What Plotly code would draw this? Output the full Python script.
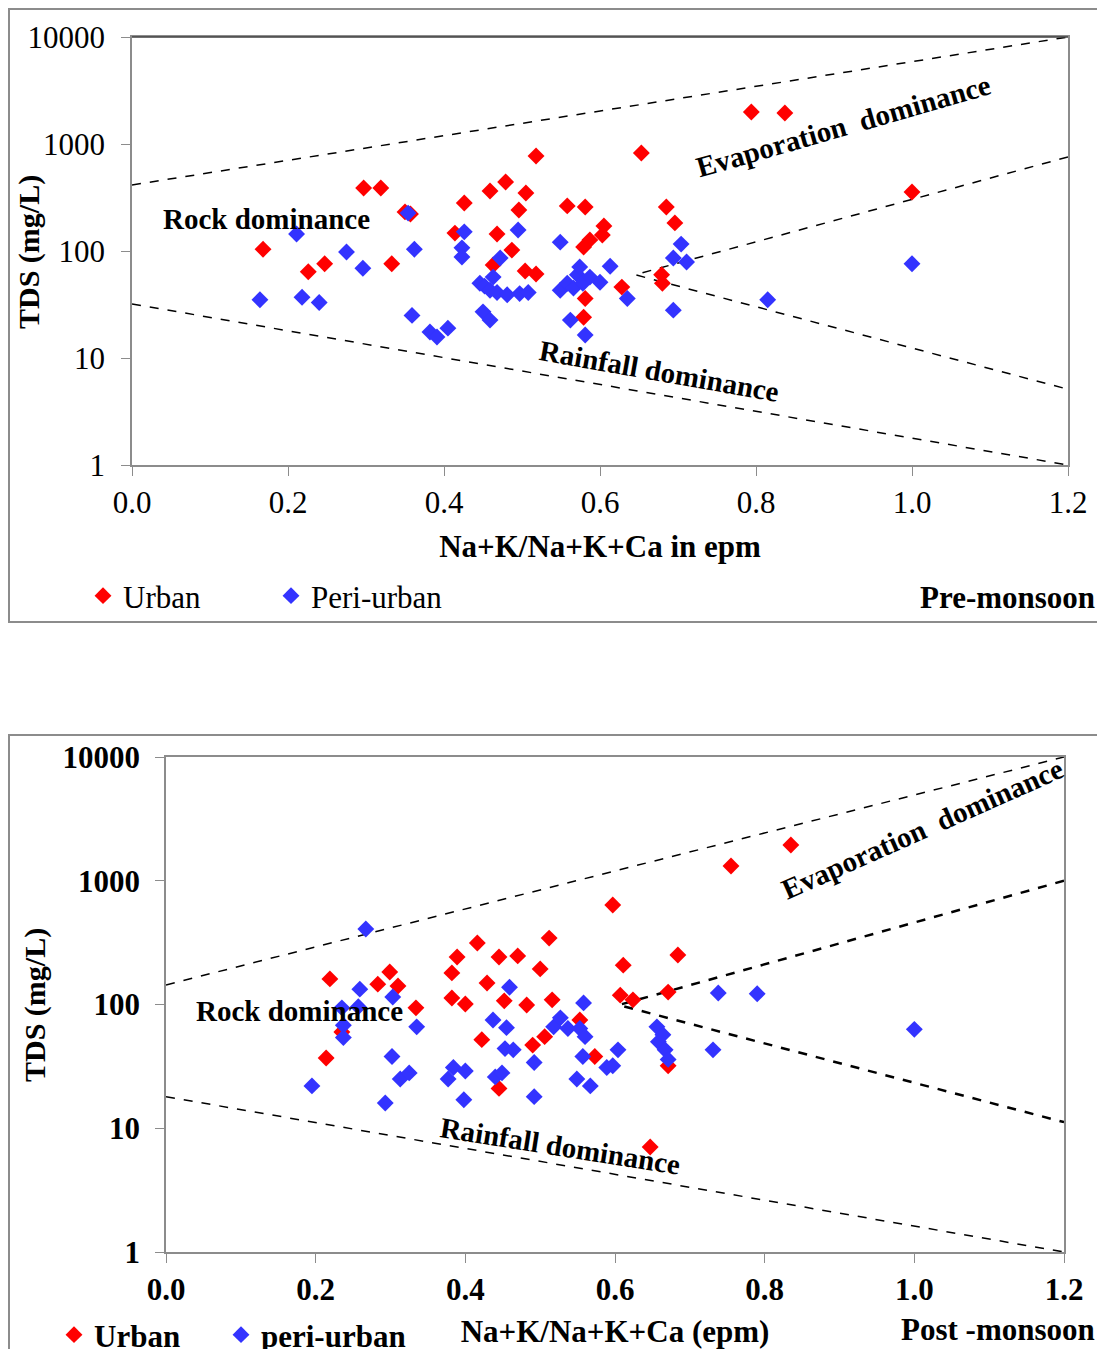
import plotly.graph_objects as go

# page body has an 8px margin: the figure covers page pixels 8..1105 x 8..1349
OX, OY = 8, 8
W, H = 1105 - OX, 1349 - OY
def px(x): return (x - OX) / W
def py(y): return 1 - (y - OY) / H

FONT = "Liberation Serif"
RED = "#FF0000"
BLUE = "#3333FF"

# ---------------- Pre-monsoon data ----------------
pre_urban_x = [0.168, 0.226, 0.247, 0.297, 0.319, 0.333, 0.350, 0.357, 0.414, 0.426, 0.459, 0.463,
               0.468, 0.479, 0.487, 0.496, 0.504, 0.505, 0.518, 0.518, 0.558, 0.579, 0.579, 0.581,
               0.581, 0.587, 0.603, 0.605, 0.628, 0.653, 0.679, 0.680, 0.685, 0.696, 0.794, 0.837, 1.0]
pre_urban_y = [104, 64, 76, 388, 388, 76, 232, 222, 147, 281, 364, 74,
               144, 442, 102, 242, 65, 348, 773, 61, 264, 109, 24, 258,
               36, 127, 141, 171, 46, 824, 60, 50, 258, 183, 1990, 1950, 356]

pre_peri_x = [0.164, 0.211, 0.218, 0.240, 0.275, 0.296, 0.354, 0.359, 0.362, 0.382, 0.391, 0.405,
              0.423, 0.423, 0.426, 0.446, 0.450, 0.452, 0.459, 0.459, 0.463, 0.468, 0.472, 0.481,
              0.495, 0.497, 0.508, 0.549, 0.549, 0.558, 0.562, 0.566, 0.571, 0.574, 0.578, 0.581,
              0.587, 0.600, 0.613, 0.635, 0.694, 0.694, 0.704, 0.711, 0.815, 1.0]
pre_peri_y = [35, 144, 37, 33, 98, 69, 226, 25, 104, 17.5, 15.7, 19,
              107, 88, 151, 50, 27, 47, 43, 22.6, 57, 41, 86, 39,
              157, 40, 41, 121, 43, 50, 22.6, 45, 60, 71, 50, 16.4,
              57, 51, 72, 36, 86, 28, 116, 79, 35, 76]

# Gibbs boundary lines (pre-monsoon)
pre_upper_x, pre_upper_y = [0.0, 1.2], [414, 10000]
pre_lower_x, pre_lower_y = [0.0, 1.2], [32, 1]
pre_mid_x, pre_mid_y = [1.2, 0.645, 1.2], [757, 60, 5.1]

# ---------------- Post-monsoon data ----------------
post_urban_x = [0.214, 0.219, 0.235, 0.283, 0.299, 0.310, 0.334, 0.382, 0.382, 0.389, 0.400, 0.416,
                0.422, 0.429, 0.445, 0.445, 0.452, 0.470, 0.482, 0.490, 0.500, 0.506, 0.512, 0.516,
                0.553, 0.573, 0.597, 0.607, 0.611, 0.624, 0.647, 0.671, 0.671, 0.684, 0.755, 0.835]
post_urban_y = [37, 161, 60, 146, 183, 141, 94, 180, 113, 242, 101, 314,
                52, 149, 242, 21, 107, 247, 99, 47, 194, 55, 344, 109,
                75, 38, 637, 119, 208, 109, 7.05, 126, 32, 251, 1315, 1945]

post_peri_x = [0.195, 0.235, 0.237, 0.237, 0.257, 0.259, 0.267, 0.293, 0.302, 0.303, 0.313, 0.325,
               0.335, 0.377, 0.384, 0.398, 0.400, 0.437, 0.440, 0.449, 0.453, 0.455, 0.459, 0.464,
               0.492, 0.492, 0.518, 0.527, 0.537, 0.549, 0.553, 0.557, 0.558, 0.560, 0.567, 0.589,
               0.597, 0.604, 0.656, 0.658, 0.664, 0.667, 0.671, 0.731, 0.738, 0.790, 1.0]
post_peri_y = [22, 94, 68, 54, 96, 133, 407, 16, 38, 115, 25, 28,
               66, 25, 31, 17, 29, 75, 26, 28, 44, 65, 138, 43,
               34, 18, 66, 78, 64, 25, 64, 38, 103, 55, 22, 31,
               32, 43, 66, 50, 57, 43, 36, 43, 124, 122, 63]

post_upper_x, post_upper_y = [0.0, 1.2], [144, 10000]
post_lower_x, post_lower_y = [0.0, 1.2], [18, 1]
post_mid_x, post_mid_y = [1.2, 0.605, 1.2], [1000, 99, 11.2]

x_ticks = [0.0, 0.2, 0.4, 0.6, 0.8, 1.0, 1.2]
y_ticks = [1, 10, 100, 1000, 10000]
y_tick_text = ["1", "10", "100", "1000", "10000"]

fig = go.Figure()

def add_lines(xs_list, ys_list, xa, ya, widths, dashes):
    for xs, ys, w, d in zip(xs_list, ys_list, widths, dashes):
        fig.add_trace(go.Scatter(x=xs, y=ys, mode="lines", xaxis=xa, yaxis=ya,
                                 line=dict(color="black", width=w, dash=d),
                                 showlegend=False, hoverinfo="skip"))

add_lines([pre_upper_x, pre_lower_x, pre_mid_x], [pre_upper_y, pre_lower_y, pre_mid_y],
          "x", "y", [1.5, 1.5, 1.5], ["dash", "dash", "dash"])
add_lines([post_upper_x, post_lower_x, post_mid_x], [post_upper_y, post_lower_y, post_mid_y],
          "x2", "y2", [1.5, 1.5, 2.5], ["dash", "dash", "dash"])

MS = 13
fig.add_trace(go.Scatter(x=pre_urban_x, y=pre_urban_y, mode="markers", name="Urban",
                         marker=dict(symbol="diamond", size=MS, color=RED),
                         xaxis="x", yaxis="y", legend="legend"))
fig.add_trace(go.Scatter(x=pre_peri_x, y=pre_peri_y, mode="markers", name="Peri-urban",
                         marker=dict(symbol="diamond", size=MS, color=BLUE),
                         xaxis="x", yaxis="y", legend="legend"))
fig.add_trace(go.Scatter(x=post_urban_x, y=post_urban_y, mode="markers", name="Urban",
                         marker=dict(symbol="diamond", size=MS, color=RED),
                         xaxis="x2", yaxis="y2", legend="legend2"))
fig.add_trace(go.Scatter(x=post_peri_x, y=post_peri_y, mode="markers", name="peri-urban",
                         marker=dict(symbol="diamond", size=MS, color=BLUE),
                         xaxis="x2", yaxis="y2", legend="legend2"))
# empty spacer entry so that the last legend text is not clipped
fig.add_trace(go.Scatter(x=[None], y=[None], mode="markers", name=" ",
                         marker=dict(symbol="diamond", size=MS, color="rgba(0,0,0,0)"),
                         xaxis="x2", yaxis="y2", legend="legend2", hoverinfo="skip"))

AX = "#8c8c8c"
common_x = dict(range=[0, 1.2], tickvals=x_ticks, tickformat=".1f", showgrid=False, zeroline=False,
                showline=True, linecolor=AX, linewidth=1.5, mirror=True, ticks="outside",
                ticklen=9, tickcolor=AX, automargin=False)
common_y = dict(type="log", range=[0, 4], tickvals=y_ticks, ticktext=y_tick_text, showgrid=False,
                zeroline=False, showline=True, linecolor=AX, linewidth=1.5, mirror=True,
                ticks="outside", ticklen=9, tickcolor=AX, automargin=False)

fig.update_layout(
    width=W, height=H, autosize=False,
    margin=dict(l=0, r=0, t=0, b=0, pad=0, autoexpand=False),
    paper_bgcolor="white", plot_bgcolor="white",
    font=dict(family=FONT, size=30, color="black"),
    xaxis=dict(domain=[px(132), px(1068)], anchor="y",
               tickfont=dict(family=FONT, size=31), ticklabelstandoff=0,
               title=dict(text="<b>Na+K/Na+K+Ca in epm</b>", font=dict(family=FONT, size=31), standoff=16),
               **common_x),
    yaxis=dict(domain=[py(465), py(37)], anchor="x",
               tickfont=dict(family=FONT, size=31), ticklabelstandoff=10, **common_y),
    xaxis2=dict(domain=[px(166), px(1064)], anchor="y2",
                tickfont=dict(family=FONT, size=31, weight="bold"), ticklabelstandoff=0,
                title=dict(text="<b>Na+K/Na+K+Ca (epm)</b>", font=dict(family=FONT, size=31), standoff=20),
                **common_x),
    yaxis2=dict(domain=[py(1252), py(757)], anchor="x2",
                tickfont=dict(family=FONT, size=31, weight="bold"), ticklabelstandoff=9, **common_y),
    legend=dict(orientation="h", x=px(83), y=py(596), xanchor="left", yanchor="middle",
                font=dict(family=FONT, size=31), entrywidth=143, entrywidthmode="pixels",
                bgcolor="rgba(0,0,0,0)", itemclick=False),
    legend2=dict(orientation="h", x=px(54), y=py(1335), xanchor="left", yanchor="middle",
                 font=dict(family=FONT, size=31, weight="bold"), entrywidth=122, entrywidthmode="pixels",
                 bgcolor="rgba(0,0,0,0)", itemclick=False),
    showlegend=True,
)

ann = []
def txt(x, y, s, size=30, angle=0, xanchor="center", bold=True):
    ann.append(dict(x=px(x), y=py(y), xref="paper", yref="paper", text=(f"<b>{s}</b>" if bold else s),
                    showarrow=False, textangle=angle, xanchor=xanchor, yanchor="middle",
                    font=dict(family=FONT, size=size, color="black")))

# Pre-monsoon labels
txt(29, 252, "TDS (mg/L)", size=30, angle=-90)
txt(266, 219, "Rock dominance", size=29)
txt(843, 126, "Evaporation&nbsp;&nbsp;dominance", size=29, angle=-16)
txt(659, 371, "Rainfall dominance", size=29, angle=10)
txt(1097, 597, "Pre-monsoon", size=31, xanchor="right")
# Post-monsoon labels
txt(35, 1005, "TDS (mg/L)", size=30, angle=-90)
txt(299, 1011, "Rock dominance", size=29)
txt(922, 829, "Evaporation&nbsp;&nbsp;dominance", size=29, angle=-24)
txt(560, 1146, "Rainfall dominance", size=29, angle=9)
txt(1097, 1329, "Post -monsoon", size=31, xanchor="right")
fig.update_layout(annotations=ann)

# Outer panel frames
fig.update_layout(shapes=[
    dict(type="rect", xref="paper", yref="paper", x0=px(9), x1=px(1103), y0=py(622), y1=py(9),
         line=dict(color="#8c8c8c", width=2), fillcolor="rgba(0,0,0,0)", layer="below"),
    dict(type="rect", xref="paper", yref="paper", x0=px(9), x1=px(1103), y0=py(1360), y1=py(735),
         line=dict(color="#8c8c8c", width=2), fillcolor="rgba(0,0,0,0)", layer="below"),
    # darker top frame line of the pre-monsoon plot area
    dict(type="line", xref="paper", yref="paper", x0=px(132), x1=px(1068), y0=py(37), y1=py(37),
         line=dict(color="#404040", width=1.5)),
])

fig.write_html("out.html")
